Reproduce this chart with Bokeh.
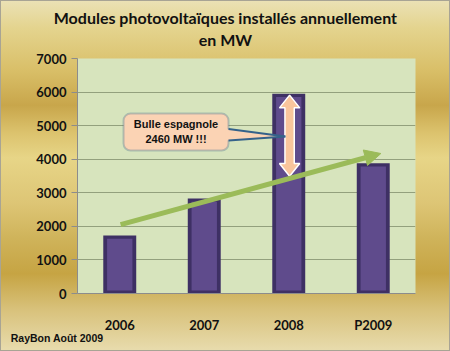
from bokeh.plotting import figure
from bokeh.models import (FactorRange, Range1d, FixedTicker, Arrow, NormalHead,
                          BoxAnnotation, InlineStyleSheet, ColumnDataSource)
from bokeh.core.properties import value
from bokeh.embed import file_html
from bokeh.resources import INLINE

# ---- data ----
years = ["2006", "2007", "2008", "P2009"]
mw = [1730, 2830, 5950, 3880]
bubble_mw = 2460
bubble_year = "2008"
trend_start = 2050
trend_end = 4170
y_ticks = [0, 1000, 2000, 3000, 4000, 5000, 6000, 7000]
title_lines = ["Modules photovoltaïques installés annuellement", "en MW"]
callout_lines = ["Bulle espagnole", "2460 MW !!!"]
credit = "RayBon Août  2009"

FONT = "Lato"

p = figure(x_range=FactorRange(factors=years, range_padding=0),
           y_range=Range1d(0, 7000),
           width=450, height=351, output_backend="svg", toolbar_location=None,
           min_border_left=77, min_border_right=35, min_border_top=58, min_border_bottom=58)
p.x_range.factor_padding = 0
p.border_fill_alpha = 0
p.background_fill_color = "#d7e4bd"
p.outline_line_color = None
p.stylesheets = [InlineStyleSheet(css=""":host { background: linear-gradient(180deg,
    #ebe2b6 0%, #e4d48e 8%, #d9bf68 20%, #c8a64b 30%, #dcc36e 38%, #e7d587 45%,
    #ddc575 58%, #cfb35a 68%, #c6a443 78%, #d8c17a 88%, #e8dcae 100%);
    box-shadow: inset 0 0 0 1px #a8a494; }""")]

# grid & axes
p.xgrid.grid_line_color = None
p.ygrid.grid_line_color = "#93a07d"
p.ygrid.grid_line_width = 1
p.yaxis.ticker = FixedTicker(ticks=y_ticks)
for ax in (p.xaxis[0], p.yaxis[0]):
    ax.axis_line_color = "#8c8c8c"
    ax.major_tick_line_color = "#8c8c8c"
    ax.minor_tick_line_color = None
    ax.major_label_text_font = FONT
    ax.major_label_text_font_style = "bold"
    ax.major_label_text_font_size = "13px"
    ax.major_label_text_color = "#111111"
p.yaxis.major_tick_out = 6
p.yaxis.major_tick_in = 0
p.yaxis.major_label_standoff = 5
p.xaxis.major_tick_line_color = None
p.xaxis.major_label_standoff = 17

# bars (bevelled look)
src = ColumnDataSource(dict(x=years, top=mw,
                            inner_top=[v - 100 for v in mw]))
p.vbar(x="x", top="top", bottom=0, width=0.39, source=src,
       fill_color="#3e3064", line_color=None)
p.vbar(x="x", top="inner_top", bottom=90, width=0.30, source=src,
       fill_color="#5f4b8c", line_color=None)

# trend arrow (green)
p.add_layout(Arrow(x_start=0.51, y_start=trend_start, x_end=3.59, y_end=trend_end,
                   line_color="#9bbb59", line_width=5,
                   end=NormalHead(size=16, fill_color="#9bbb59", line_color="#9bbb59")))

# double arrow inside 2008 bar
i = years.index(bubble_year)
cx = i + 0.5 + 0.01
top = mw[i] - 40
bot = mw[i] - bubble_mw
hw, sw, hl = 0.12, 0.055, 380
ax_ = [cx, cx + hw, cx + sw, cx + sw, cx + hw, cx, cx - hw, cx - sw, cx - sw, cx - hw]
ay_ = [top, top - hl, top - hl, bot + hl, bot + hl, bot, bot + hl, bot + hl, top - hl, top - hl]
p.patch(ax_, ay_, fill_color="#f9c59c", line_color="white", line_width=1.5)

# callout box
box_l, box_r, box_t, box_b = 0.545, 1.787, 5360, 4260
p.add_layout(BoxAnnotation(left=box_l, right=box_r, top=box_t, bottom=box_b,
                           fill_color="#fbd3b4", fill_alpha=1,
                           line_color="#35628a", line_width=2, border_radius=7))
tip_x, tip_y = 2.46, 4680
p.patch([box_r - 0.03, tip_x, box_r - 0.03], [4900, tip_y, 4560],
        fill_color="#fbd3b4", line_color=None, level="overlay")
p.multi_line([[box_r, tip_x], [box_r, tip_x]], [[4900, tip_y], [4560, tip_y]],
             line_color="#35628a", line_width=2, level="overlay")
p.text(x=[1.166, 1.166], y=[5040, 4600], text=callout_lines,
       text_font=value("Liberation Sans"), text_font_style="bold",
       text_font_size="11px", text_align="center", text_baseline="middle",
       text_color="#111111", level="overlay")

# title and credit
p.text(x=[1.75, 1.75], y=[8230, 7570], text=title_lines,
       text_font=value(FONT), text_font_style="bold", text_font_size="16px",
       text_align="center", text_baseline="middle", text_color="#111111",
       level="overlay")
p.text(x=[-0.79], y=[-1330], text=[credit],
       text_font=value("Liberation Sans"), text_font_style="bold",
       text_font_size="10.5px", text_align="left", text_baseline="middle",
       text_color="#111111", level="overlay")

open("out.html", "w").write(file_html(p, INLINE))
